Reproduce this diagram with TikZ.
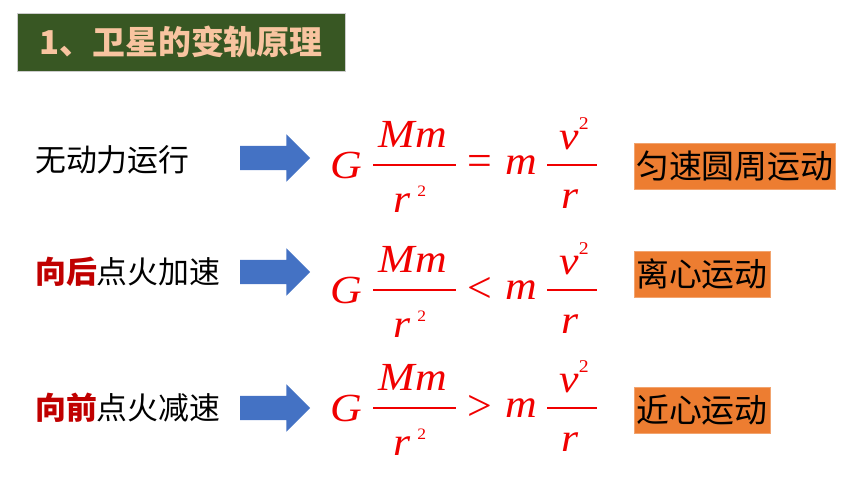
\documentclass[tikz,border=0pt]{standalone}
\usepackage{fontspec}
\setmainfont{Liberation Serif}
\newfontfamily\cjk{Noto Sans CJK SC}
\usetikzlibrary{positioning, shapes.arrows}
\definecolor{titlegreen}{RGB}{56,87,35}
\definecolor{peach}{RGB}{248,196,160}
\definecolor{boxorange}{RGB}{237,125,49}
\definecolor{arrowblue}{RGB}{68,114,196}
\definecolor{fred}{RGB}{240,0,0}
\definecolor{lred}{RGB}{192,0,0}
\tikzstyle{title} = [rectangle, fill=titlegreen, draw=gray!40, minimum width=328bp, minimum height=58bp, text=peach, font=\cjk\bfseries\fontsize{33}{33}\selectfont]
\tikzstyle{cond} = [anchor=west, inner sep=0pt, font=\cjk\fontsize{31}{31}\selectfont]
\tikzstyle{result} = [rectangle, fill=boxorange, draw=boxorange!70!white, anchor=west, minimum height=46bp, inner sep=2bp, font=\cjk\fontsize{33}{33}\selectfont]
\tikzstyle{push} = [single arrow, fill=arrowblue, text height=12bp, text depth=12bp, text width=0pt, minimum height=70bp, single arrow head extend=11.5bp, single arrow tip angle=90, inner sep=0pt, outer sep=0pt]
\tikzstyle{sym} = [text=fred, inner sep=0pt, font=\itshape\fontsize{40}{40}\selectfont\addfontfeature{FakeStretch=1.1}]
\tikzstyle{bar} = [fred, line width=1.4bp]
\begin{document}
\begin{tikzpicture}[x=1bp, y=-1bp]
  \useasboundingbox (0,0) rectangle (860,484);

  % Title
  \node (title) [title] at (181,42) {1、卫星的变轨原理};

  % Conditions
  \node (c1) [cond] at (35,160) {无动力运行};
  \node (c2) [cond] at (35,272) {\textcolor{lred}{\bfseries 向后}点火加速};
  \node (c3) [cond] at (35,408) {\textcolor{lred}{\bfseries 向前}点火减速};

  % Arrows
  \node (a1) [push] at (269,158) {};
  \node (a2) [push] at (269,272) {};
  \node (a3) [push] at (269,408) {};

  % Formulas
  \foreach \y/\rel/\n in {165/=/1, 290/</2, 408/>/3} {
    \node (G\n) [sym] at (346,\y) {G};
    \node (Mm\n) [sym] at (413,\y-31) {Mm};
    \node (rr\n) [sym] at (410,\y+34) {r\,\raisebox{0.9ex}{\fontsize{16}{16}\selectfont\upshape 2}};
    \node (rel\n) [sym, font=\upshape\fontsize{44}{44}\selectfont] at (480,\y) {\rel};
    \node (m\n) [sym] at (521,\y) {m};
    \node (v\n) [sym] at (574,\y-31) {v\raisebox{1.1ex}{\fontsize{18}{18}\selectfont\upshape 2}};
    \node (r\n) [sym] at (570,\y+34) {r};
    \draw[bar] (373,\y) -- (456,\y);
    \draw[bar] (547,\y) -- (597,\y);
  }

  % Results
  \node (res1) [result] at (634,166) {匀速圆周运动};
  \node (res2) [result] at (634,274) {离心运动};
  \node (res3) [result] at (634,410) {近心运动};

\end{tikzpicture}
\end{document}
